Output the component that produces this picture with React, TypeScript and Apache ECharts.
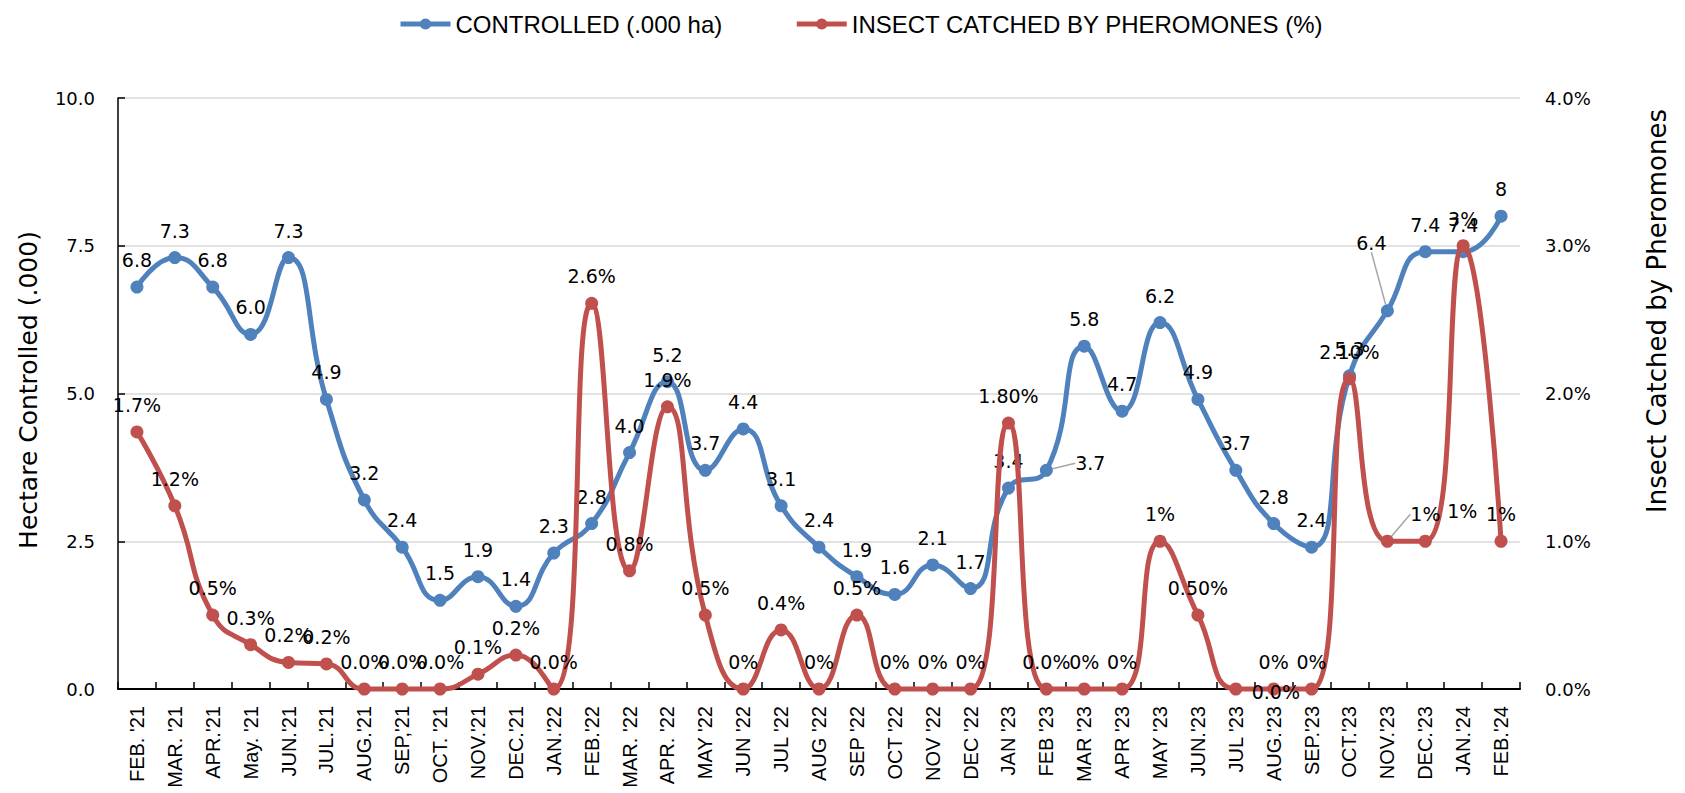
import React, { useEffect, useRef } from "react";
import * as echarts from "echarts";

const categories = [
  "FEB. '21", "MAR. '21", "APR.'21", "May. '21", "JUN.'21", "JUL.'21", "AUG.'21", "SEP,'21",
  "OCT. '21", "NOV.'21", "DEC.'21", "JAN.'22", "FEB.'22", "MAR. '22", "APR. '22", "MAY '22",
  "JUN '22", "JUL '22", "AUG '22", "SEP '22", "OCT '22", "NOV '22", "DEC '22", "JAN '23",
  "FEB '23", "MAR '23", "APR '23", "MAY '23", "JUN.'23", "JUL '23", "AUG.'23", "SEP.'23",
  "OCT.'23", "NOV.'23", "DEC.'23", "JAN.'24", "FEB.'24",
];

const controlled = [
  6.8, 7.3, 6.8, 6.0, 7.3, 4.9, 3.2, 2.4, 1.5, 1.9, 1.4, 2.3, 2.8, 4.0, 5.2, 3.7, 4.4, 3.1, 2.4,
  1.9, 1.6, 2.1, 1.7, 3.4, 3.7, 5.8, 4.7, 6.2, 4.9, 3.7, 2.8, 2.4, 5.3, 6.4, 7.4, 7.4, 8,
];
const controlledLabels = [
  "6.8", "7.3", "6.8", "6.0", "7.3", "4.9", "3.2", "2.4", "1.5", "1.9", "1.4", "2.3", "2.8", "4.0",
  "5.2", "3.7", "4.4", "3.1", "2.4", "1.9", "1.6", "2.1", "1.7", "3.4", "3.7", "5.8", "4.7", "6.2",
  "4.9", "3.7", "2.8", "2.4", "5.3", "6.4", "7.4", "7.4", "8",
];

const insectPct = [
  1.74, 1.24, 0.5, 0.3, 0.18, 0.17, 0, 0, 0, 0.1, 0.23, 0, 2.61, 0.8, 1.91, 0.5, 0, 0.4, 0,
  0.5, 0, 0, 0, 1.8, 0, 0, 0, 1.0, 0.5, 0, 0, 0, 2.1, 1.0, 1.0, 3.0, 1.0,
];
const insectLabels = [
  "1.7%", "1.2%", "0.5%", "0.3%", "0.2%", "0.2%", "0.0%", "0.0%", "0.0%", "0.1%", "0.2%", "0.0%",
  "2.6%", "0.8%", "1.9%", "0.5%", "0%", "0.4%", "0%", "0.5%", "0%", "0%", "0%", "1.80%", "0.0%",
  "0%", "0%", "1%", "0.50%", "0.0%", "0%", "0%", "2.10%", "1%", "1%", "3%", "1%",
];

const BLUE = "#4F81BD";
const RED = "#C0504D";
const LABEL_FONT = "DejaVu Sans";
const SANS = "Liberation Sans";

// label displacement (dx, dy) for labels that Excel moved
const blueMoves: Record<number, [number, number]> = { 24: [44, 20], 33: [-16, -41] };
const redMoves: Record<number, [number, number]> = { 29: [40, 30], 33: [38, 0], 34: [37, -3] };
const blueLeaders = [24, 33];
const redLeaders = [33];

export default function App() {
  const ref = useRef<HTMLDivElement>(null);

  useEffect(() => {
    if (!ref.current) return;
    const chart = echarts.init(ref.current, undefined, { renderer: "svg" });

    const labelStyle = {
      show: true,
      position: "top",
      distance: 11,
      color: "#000",
      fontFamily: LABEL_FONT,
      fontSize: 19,
    };

    const option: any = {
      animation: false,
      backgroundColor: "#fff",
      legend: {
        top: 7,
        left: 393,
        itemWidth: 50,
        itemHeight: 14,
        itemGap: 72,
        lineStyle: { width: 5 },
        textStyle: { fontFamily: SANS, fontSize: 24, color: "#000" },
        data: ["CONTROLLED (.000 ha)", "INSECT CATCHED BY PHEROMONES (%)"],
      },
      grid: { left: 118, right: 165, top: 98, bottom: 104 },
      xAxis: {
        type: "category",
        data: categories,
        boundaryGap: true,
        axisLine: { show: true, lineStyle: { color: "#000", width: 2 } },
        axisTick: { show: true, inside: true, length: 7, lineStyle: { color: "#000", width: 1.5 } },
        axisLabel: {
          rotate: 90,
          margin: 17,
          interval: 0,
          color: "#000",
          fontFamily: SANS,
          fontSize: 20,
        },
        splitLine: { show: false },
      },
      yAxis: [
        {
          type: "value",
          min: 0,
          max: 10,
          interval: 2.5,
          axisLine: { show: true, lineStyle: { color: "#000", width: 1.5 } },
          axisTick: { show: true, inside: true, length: 7, lineStyle: { color: "#000", width: 1.5 } },
          axisLabel: {
            margin: 23,
            color: "#000",
            fontFamily: LABEL_FONT,
            fontSize: 18,
            formatter: (v: number) => v.toFixed(1),
          },
          splitLine: { show: true, lineStyle: { color: "#D9D9D9", width: 1.5 } },
        },
        {
          type: "value",
          min: 0,
          max: 4,
          interval: 1,
          position: "right",
          axisLine: { show: false },
          axisTick: { show: false },
          axisLabel: {
            margin: 25,
            color: "#000",
            fontFamily: LABEL_FONT,
            fontSize: 18,
            formatter: (v: number) => `${v.toFixed(1)}%`,
          },
          splitLine: { show: false },
        },
      ],
      graphic: [
        {
          type: "text",
          x: 28,
          y: 390,
          rotation: Math.PI / 2,
          style: {
            text: "Hectare Controlled (.000)",
            fontFamily: LABEL_FONT,
            fontSize: 25,
            fill: "#000",
            align: "center",
            verticalAlign: "middle",
          },
        },
        {
          type: "text",
          x: 1657,
          y: 311,
          rotation: Math.PI / 2,
          style: {
            text: "Insect Catched by Pheromones",
            fontFamily: LABEL_FONT,
            fontSize: 26,
            fill: "#000",
            align: "center",
            verticalAlign: "middle",
          },
        },
      ],
      series: [
        {
          name: "CONTROLLED (.000 ha)",
          type: "line",
          yAxisIndex: 0,
          smooth: 0.5,
          clip: false,
          symbol: "circle",
          symbolSize: 13,
          lineStyle: { color: BLUE, width: 5 },
          itemStyle: { color: BLUE },
          label: { ...labelStyle, formatter: (p: any) => controlledLabels[p.dataIndex] },
          labelLine: { show: false, lineStyle: { color: "#A6A6A6", width: 1.5 } },
          labelLayout: (p: any) => {
            const m = blueMoves[p.dataIndex];
            return m ? { dx: m[0], dy: m[1] } : {};
          },
          data: controlled.map((v, i) => ({
            value: v,
            labelLine: { show: blueLeaders.includes(i), lineStyle: { color: "#A6A6A6", width: 1.5 } },
          })),
          z: 2,
        },
        {
          name: "INSECT CATCHED BY PHEROMONES (%)",
          type: "line",
          yAxisIndex: 1,
          smooth: 0.5,
          clip: false,
          symbol: "circle",
          symbolSize: 13,
          lineStyle: { color: RED, width: 5 },
          itemStyle: { color: RED },
          label: { ...labelStyle, formatter: (p: any) => insectLabels[p.dataIndex] },
          labelLine: { show: false, lineStyle: { color: "#A6A6A6", width: 1.5 } },
          labelLayout: (p: any) => {
            const m = redMoves[p.dataIndex];
            return m ? { dx: m[0], dy: m[1] } : {};
          },
          data: insectPct.map((v, i) => ({
            value: v,
            labelLine: { show: redLeaders.includes(i), lineStyle: { color: "#A6A6A6", width: 1.5 } },
          })),
          z: 3,
        },
      ],
    };

    chart.setOption(option);
    return () => chart.dispose();
  }, []);

  return (
    <div
      ref={ref}
      style={{ position: "fixed", left: 0, top: 0, width: 1685, height: 793, background: "#fff" }}
    />
  );
}
